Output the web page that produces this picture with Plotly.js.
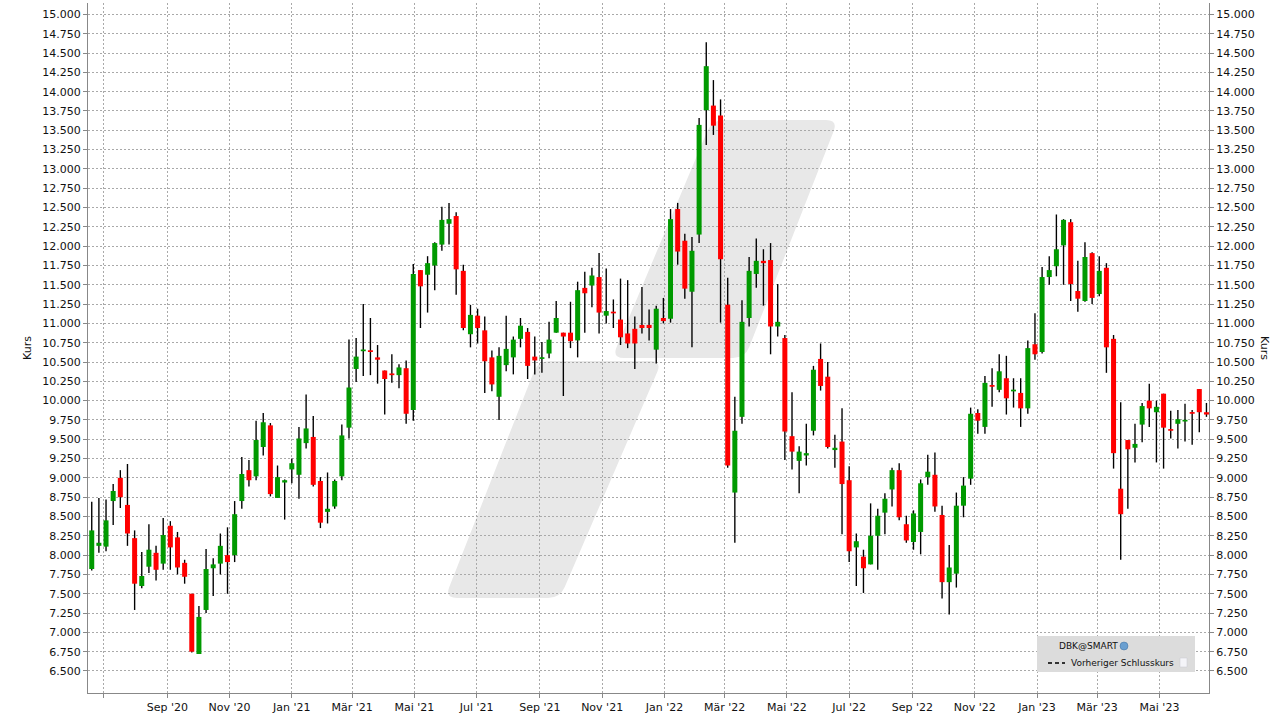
<!DOCTYPE html>
<html><head><meta charset="utf-8">
<script src="https://cdn.plot.ly/plotly-3.0.1.min.js"></script>
<style>html,body{margin:0;padding:0;background:#fff;}#chart{width:1281px;height:720px;}</style>
</head><body><div id="chart"></div>
<script>
const dates = [
'2020-06-19','2020-06-26','2020-07-03','2020-07-10','2020-07-17','2020-07-24','2020-07-31','2020-08-07','2020-08-14','2020-08-21',
'2020-08-28','2020-09-04','2020-09-11','2020-09-18','2020-09-25','2020-10-02','2020-10-09','2020-10-16','2020-10-23','2020-10-30',
'2020-11-06','2020-11-13','2020-11-20','2020-11-27','2020-12-04','2020-12-11','2020-12-18','2020-12-25','2021-01-01','2021-01-08',
'2021-01-15','2021-01-22','2021-01-29','2021-02-05','2021-02-12','2021-02-19','2021-02-26','2021-03-05','2021-03-12','2021-03-19',
'2021-03-26','2021-04-02','2021-04-09','2021-04-16','2021-04-23','2021-04-30','2021-05-07','2021-05-14','2021-05-21','2021-05-28',
'2021-06-04','2021-06-11','2021-06-18','2021-06-25','2021-07-02','2021-07-09','2021-07-16','2021-07-23','2021-07-30','2021-08-06',
'2021-08-13','2021-08-20','2021-08-27','2021-09-03','2021-09-10','2021-09-17','2021-09-24','2021-10-01','2021-10-08','2021-10-15',
'2021-10-22','2021-10-29','2021-11-05','2021-11-12','2021-11-19','2021-11-26','2021-12-03','2021-12-10','2021-12-17','2021-12-24',
'2021-12-31','2022-01-07','2022-01-14','2022-01-21','2022-01-28','2022-02-04','2022-02-11','2022-02-18','2022-02-25','2022-03-04',
'2022-03-11','2022-03-18','2022-03-25','2022-04-01','2022-04-08','2022-04-15','2022-04-22','2022-04-29','2022-05-06','2022-05-13',
'2022-05-20','2022-05-27','2022-06-03','2022-06-10','2022-06-17','2022-06-24','2022-07-01','2022-07-08','2022-07-15','2022-07-22',
'2022-07-29','2022-08-05','2022-08-12','2022-08-19','2022-08-26','2022-09-02','2022-09-09','2022-09-16','2022-09-23','2022-09-30',
'2022-10-07','2022-10-14','2022-10-21','2022-10-28','2022-11-04','2022-11-11','2022-11-18','2022-11-25','2022-12-02','2022-12-09',
'2022-12-16','2022-12-23','2022-12-30','2023-01-06','2023-01-13','2023-01-20','2023-01-27','2023-02-03','2023-02-10','2023-02-17',
'2023-02-24','2023-03-03','2023-03-10','2023-03-17','2023-03-24','2023-03-31','2023-04-07','2023-04-14','2023-04-21','2023-04-28',
'2023-05-05','2023-05-12','2023-05-19','2023-05-26','2023-06-02','2023-06-09','2023-06-16'];

const openP = [
7.82,8.12,8.11,8.70,9.00,8.65,8.22,7.60,7.85,8.03,
7.89,8.38,8.23,7.90,7.50,6.72,7.29,7.83,7.89,8.00,
8.00,8.70,9.10,9.02,9.40,9.68,8.74,8.94,9.11,9.04,
9.45,9.53,8.96,8.56,8.63,9.02,9.65,10.41,10.64,10.65,
10.56,10.39,10.35,10.33,10.42,9.88,11.69,11.63,11.75,12.02,
12.29,12.39,11.68,10.86,11.10,10.91,10.56,10.05,10.46,10.56,
10.80,10.89,10.57,10.54,10.61,10.88,10.88,10.88,10.78,11.46,
11.49,11.60,11.10,11.15,11.05,10.87,10.93,10.98,10.98,10.66,
11.07,11.06,12.48,12.07,11.41,12.15,13.76,13.82,13.69,11.24,
8.81,9.79,11.07,11.64,11.81,11.82,10.96,10.81,9.54,9.22,
9.29,9.61,10.54,10.31,9.36,9.47,8.97,8.10,7.98,7.88,
8.25,8.55,8.85,9.10,8.40,8.17,8.30,9.01,9.04,8.52,
7.65,7.76,8.64,8.99,9.84,9.66,10.20,10.14,10.29,10.12,
10.10,9.90,10.73,10.63,11.60,11.74,12.01,12.31,11.42,11.29,
11.91,11.38,11.72,10.80,8.86,9.49,9.39,9.69,10.00,9.85,
10.09,9.63,9.70,9.73,9.85,10.15,9.85];

const highP = [
8.69,8.74,8.72,8.92,9.10,9.18,8.32,8.04,8.40,8.12,
8.48,8.44,8.30,7.94,7.50,7.34,8.08,7.96,8.28,8.36,
8.70,9.27,9.23,9.74,9.84,9.71,9.16,8.98,9.25,9.66,
10.08,9.80,9.01,9.07,8.98,9.69,10.79,10.81,11.25,11.07,
10.72,10.39,10.60,10.47,10.52,11.77,11.69,11.87,12.05,12.51,
12.56,12.44,11.76,11.24,11.19,11.09,10.65,10.69,11.10,10.83,
11.07,10.94,10.83,10.76,11.02,11.29,10.88,11.28,11.54,11.67,
11.72,11.91,11.71,11.31,11.58,11.56,11.09,11.47,11.18,11.23,
11.33,12.48,12.56,12.16,12.12,13.66,14.64,14.15,13.90,11.59,
10.05,11.30,11.86,12.10,11.96,12.04,11.51,10.85,10.11,9.41,
9.70,10.45,10.74,10.50,9.56,9.90,9.15,8.28,8.07,8.67,
8.60,8.80,9.13,9.19,8.51,8.58,8.98,9.30,9.33,8.64,
8.13,8.81,9.01,9.91,9.89,10.32,10.42,10.60,10.58,10.29,
10.29,10.78,11.13,11.73,11.87,12.41,12.35,12.35,11.81,12.05,
11.92,11.87,11.78,10.85,9.98,9.49,9.70,9.97,10.22,10.00,
10.09,9.87,9.88,9.96,9.88,10.15,9.97];

const lowP = [
7.80,8.03,8.05,8.39,8.61,8.12,7.29,7.57,7.77,7.67,
7.81,7.81,7.75,7.63,6.74,6.72,7.25,7.47,7.75,7.50,
7.91,8.60,8.89,8.97,9.29,8.76,8.74,8.46,8.93,8.73,
9.38,8.89,8.35,8.41,8.60,8.97,9.51,10.24,10.32,10.33,
10.22,9.82,10.23,10.16,9.70,9.74,10.94,11.14,11.43,11.94,
12.02,11.37,10.91,10.69,10.74,10.10,10.12,9.75,10.38,10.34,
10.69,10.28,10.34,10.36,10.55,10.88,10.06,10.68,10.56,10.88,
11.21,10.87,11.00,10.94,10.72,10.68,10.41,10.87,10.78,10.48,
11.00,11.01,11.76,11.32,10.69,12.04,13.31,13.44,11.01,9.13,
8.16,9.70,10.96,11.46,11.23,10.60,10.83,9.23,9.11,8.80,
9.16,9.55,10.13,9.38,9.13,8.27,7.91,7.60,7.51,7.88,
7.81,8.27,8.63,8.45,8.16,8.07,8.01,8.91,8.56,7.44,
7.23,7.58,8.49,8.91,9.57,9.57,9.92,10.11,9.82,9.91,
9.66,9.83,10.53,10.61,11.50,11.61,11.50,11.29,11.15,11.28,
11.25,11.35,10.36,9.12,7.94,8.60,9.20,9.46,9.66,9.20,
9.12,9.51,9.38,9.47,9.43,9.59,9.79];

const closeP = [
8.32,8.16,8.45,8.83,8.75,8.28,7.63,7.73,8.07,7.81,
8.26,8.10,7.84,7.72,6.75,7.20,7.82,7.88,8.12,7.91,
8.53,9.05,8.97,9.49,9.72,8.79,9.01,8.97,9.19,9.51,
9.64,8.91,8.42,8.60,8.96,9.55,10.17,10.57,10.66,10.63,
10.53,10.28,10.33,10.43,9.83,11.64,11.48,11.78,12.04,12.34,
12.35,11.70,10.94,11.11,10.94,10.51,10.21,10.58,10.67,10.79,
10.97,10.45,10.52,10.56,10.79,11.07,10.83,10.77,11.43,11.39,
11.62,11.14,11.16,11.13,10.82,10.74,10.74,10.94,10.94,11.19,
11.03,12.35,11.93,11.45,11.94,13.57,14.33,13.56,11.83,9.16,
9.61,11.02,11.68,11.81,11.78,10.96,11.02,9.60,9.34,9.34,
9.32,10.40,10.19,9.40,9.39,8.92,8.05,8.18,7.83,8.25,
8.51,8.73,9.10,8.49,8.19,8.54,8.93,9.08,8.63,7.65,
7.84,8.64,8.90,9.83,9.74,10.23,10.18,10.38,10.03,10.14,
9.90,10.68,10.60,11.60,11.69,11.96,12.34,11.51,11.32,11.86,
11.33,11.68,10.69,9.32,8.53,9.37,9.44,9.93,9.90,9.92,
9.65,9.61,9.76,9.75,9.83,9.85,9.82];

const xTickDates = ['2020-07-01','2020-09-01','2020-11-01','2021-01-01','2021-03-01','2021-05-01','2021-07-01','2021-09-01','2021-11-01',
  '2022-01-01','2022-03-01','2022-05-01','2022-07-01','2022-09-01','2022-11-01','2023-01-01','2023-03-01','2023-05-01'];
const xTickLabels = ['',"Sep '20","Nov '20","Jan '21","Mär '21","Mai '21","Jul '21","Sep '21","Nov '21",
  "Jan '22","Mär '22","Mai '22","Jul '22","Sep '22","Nov '22","Jan '23","Mär '23","Mai '23"];
const yTickVals = [6.5,6.75,7,7.25,7.5,7.75,8,8.25,8.5,8.75,9,9.25,9.5,9.75,10,10.25,10.5,10.75,11,11.25,11.5,11.75,
  12,12.25,12.5,12.75,13,13.25,13.5,13.75,14,14.25,14.5,14.75,15];
const legendName = 'DBK@SMART';
const legendPrev = 'Vorheriger Schlusskurs';
const axisTitle = 'Kurs';

const UP = '#009a00', DOWN = '#ff0000';
const DAY = 86400000;
const bodyBase = openP.map((o,i)=>Math.min(o, closeP[i]));
const bodyH = openP.map((o,i)=>Math.max(Math.abs(closeP[i]-o), 0.022));
const bodyCol = openP.map((o,i)=> closeP[i] >= o ? UP : DOWN);
const wickH = highP.map((h,i)=>h - lowP[i]);

const font = 'DejaVu Sans, Verdana, sans-serif';
const traces = [
  {type:'bar', x:dates, base:lowP, y:wickH, width:1.35*DAY, marker:{color:'#000', line:{width:0}}, hoverinfo:'skip', showlegend:false},
  {type:'bar', x:dates, base:bodyBase, y:bodyH, width:4.9*DAY, marker:{color:bodyCol, line:{width:0}},
   customdata: openP.map((o,i)=>[o,highP[i],lowP[i],closeP[i]]),
   hovertemplate:'O %{customdata[0]}<br>H %{customdata[1]}<br>L %{customdata[2]}<br>C %{customdata[3]}<extra></extra>', showlegend:false},
  {type:'scatter', x:[dates[0]], y:[closeP[0]], yaxis:'y2', mode:'markers', marker:{opacity:0}, hoverinfo:'skip', showlegend:false}
];

function px(x){return (x-88)/1121;}
function py(y){return (693-y)/690;}
function P(p){return px(p[0]).toFixed(5)+','+py(p[1]).toFixed(5);}
// rounded polygon (pixel vertices, radius r) -> paper path
function roundedPath(pts, r){
  const n = pts.length; let d = '';
  for(let i=0;i<n;i++){
    const prev = pts[(i-1+n)%n], cur = pts[i], next = pts[(i+1)%n];
    const v1 = [prev[0]-cur[0], prev[1]-cur[1]], v2 = [next[0]-cur[0], next[1]-cur[1]];
    const l1 = Math.hypot(v1[0],v1[1]), l2 = Math.hypot(v2[0],v2[1]);
    const a = [cur[0]+v1[0]/l1*r, cur[1]+v1[1]/l1*r], b = [cur[0]+v2[0]/l2*r, cur[1]+v2[1]/l2*r];
    d += (i===0 ? 'M ' : ' L ') + P(a) + ' Q ' + P(cur) + ' ' + P(b);
  }
  return d + ' Z';
}

const yCommon = {range:[6.215,15.148], tickvals:yTickVals, tickformat:'.3f', ticks:'outside', ticklen:4, tickcolor:'#888',
  showline:true, linecolor:'#888', linewidth:1, zeroline:false, tickfont:{family:font, size:11, color:'#111'}, fixedrange:true};

const layout = {
  width:1281, height:720, margin:{l:88, r:72, t:3, b:27},
  paper_bgcolor:'#fff', plot_bgcolor:'#fff', barmode:'overlay', showlegend:false,
  font:{family:font, size:11, color:'#111'},
  xaxis:{type:'date', range:['2020-06-15 08:00','2023-06-18 12:00'], tickvals:xTickDates, ticktext:xTickLabels,
    showgrid:true, gridcolor:'#a9a9a9', griddash:'2px,2px', gridwidth:1, ticks:'outside', ticklen:4, tickcolor:'#888',
    showline:true, linecolor:'#888', zeroline:false, tickfont:{family:font, size:11, color:'#111'}, fixedrange:true},
  yaxis:Object.assign({}, yCommon, {showgrid:true, gridcolor:'#a9a9a9', griddash:'2px,2px', gridwidth:1,
    title:{text:axisTitle, font:{family:font, size:11, color:'#111'}, standoff:8}}),
  yaxis2:Object.assign({}, yCommon, {overlaying:'y', side:'right', showgrid:false}),
  shapes:[
    {type:'path', xref:'paper', yref:'paper', layer:'below', fillcolor:'#e8e8e8', line:{width:0},
     path:roundedPath([[445,598],[560,598],[662,361],[538,361]], 12)},
    {type:'path', xref:'paper', yref:'paper', layer:'below', fillcolor:'#e8e8e8', line:{width:0},
     path:roundedPath([[612,358],[745,358],[838,120],[712,120]], 12)},
    {type:'rect', xref:'paper', yref:'paper', layer:'above', x0:px(1037), x1:px(1195), y0:py(672), y1:py(636), fillcolor:'#dcdcdc', line:{width:0}},
    {type:'circle', xref:'paper', yref:'paper', layer:'above', x0:px(1120), x1:px(1128), y0:py(650), y1:py(642), fillcolor:'#6a9fd0', line:{color:'#3f6f9f', width:0.5}},
    {type:'line', xref:'paper', yref:'paper', layer:'above', x0:px(1048), x1:px(1065), y0:py(663), y1:py(663), line:{color:'#333', width:2, dash:'4px,3px'}},
    {type:'rect', xref:'paper', yref:'paper', layer:'above', x0:px(1180), x1:px(1187), y0:py(667), y1:py(658), fillcolor:'#f4f4f8', line:{color:'#c8c8d0', width:0.5}}
  ],
  annotations:[
    {xref:'paper', yref:'paper', x:px(1057), y:py(646), xanchor:'left', yanchor:'middle', showarrow:false, text:legendName, font:{family:font, size:9, color:'#111'}},
    {xref:'paper', yref:'paper', x:px(1069), y:py(663), xanchor:'left', yanchor:'middle', showarrow:false, text:legendPrev, font:{family:font, size:9, color:'#111'}},
    {xref:'paper', yref:'paper', x:px(1265), y:py(348), xanchor:'center', yanchor:'middle', showarrow:false, textangle:90, text:axisTitle, font:{family:font, size:11, color:'#111'}}
  ]
};

Plotly.newPlot('chart', traces, layout, {displayModeBar:false, staticPlot:true});
</script>
</body></html>
